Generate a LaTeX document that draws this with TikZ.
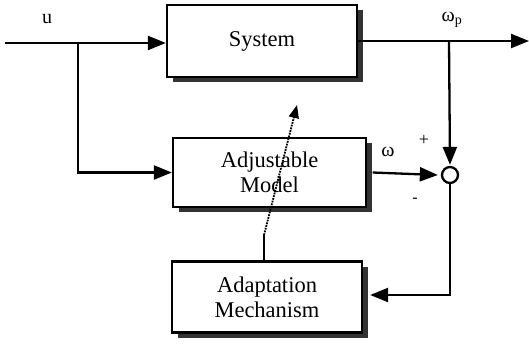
\documentclass[tikz,border=0pt]{standalone}
\usepackage{fontspec}
\setmainfont{Liberation Serif}
\usetikzlibrary{arrows.meta,shadows,calc}
\begin{document}
\begin{tikzpicture}[x=1pt,y=-1pt,
  line width=2.3pt,
  blockbox/.style={draw, fill=white, rectangle, inner sep=0pt,
    align=center, font=\fontsize{22.5}{25}\selectfont,
    drop shadow={shadow xshift=5.5pt, shadow yshift=-5pt, fill=black!80, opacity=1}},
  sumjunction/.style={draw, circle, fill=white, minimum size=16pt, inner sep=0pt},
  signal/.style={-{Triangle[length=18pt,width=14pt]}},
  lbl/.style={font=\fontsize{20}{22}\selectfont, inner sep=0pt},
]
\useasboundingbox (0,0) rectangle (529,343);

% blocks
\node[blockbox, minimum width=190pt, minimum height=72pt] (sys) at (262,41) {System};
\node[blockbox, minimum width=193pt, minimum height=69pt] (model) at (269.5,172.5) {Adjustable\\Model};
\node[blockbox, minimum width=190pt, minimum height=71pt] (adapt) at (267,297) {Adaptation\\Mechanism};
\node[sumjunction] (sum) at (450,175) {};

% helper points
\coordinate (uin) at (5,43);
\coordinate (usplit) at (78,43);
\coordinate (wout) at (529,41);
\coordinate (wsplit) at (449,41);
\coordinate (errcorner) at (450,295);
\coordinate (stub) at (264,235);
\coordinate (tunetip) at (297,105);

% input signal
\draw[signal] (uin) -- (sys.west |- uin);
\draw[signal] (usplit) |- (model.west);

% plant output
\draw[signal] (sys.east |- wout) -- (wout);
\draw[signal] (wsplit) -- ($(sum.north)+(0,-1)$);

% model output into the comparator
\draw[signal] ($(model.east)+(5.5,0)$) -- ($(sum.west)+(-3,0)$);

% error back to the adaptation law
\draw[signal] (sum.south) -- (errcorner) -- ($(adapt.east |- errcorner)+(7,0)$);

% parameter adjustment
\draw (adapt.north -| stub) -- (stub);
\draw[densely dotted, line width=1.8pt, -{Triangle[length=13pt,width=10pt]}] (stub) -- (tunetip);

% labels
\node[lbl] (ulbl) at (47,19) {u};
\node[lbl] (wplbl) at (452,20) {ω\textsubscript{p}};
\node[lbl] (wlbl) at (388,152) {ω};
\node[lbl, font=\fontsize{18}{20}\selectfont] (plus) at (424,140) {+};
\node[lbl, font=\fontsize{16}{18}\selectfont] (minus) at (415,200) {-};
\end{tikzpicture}
\end{document}
